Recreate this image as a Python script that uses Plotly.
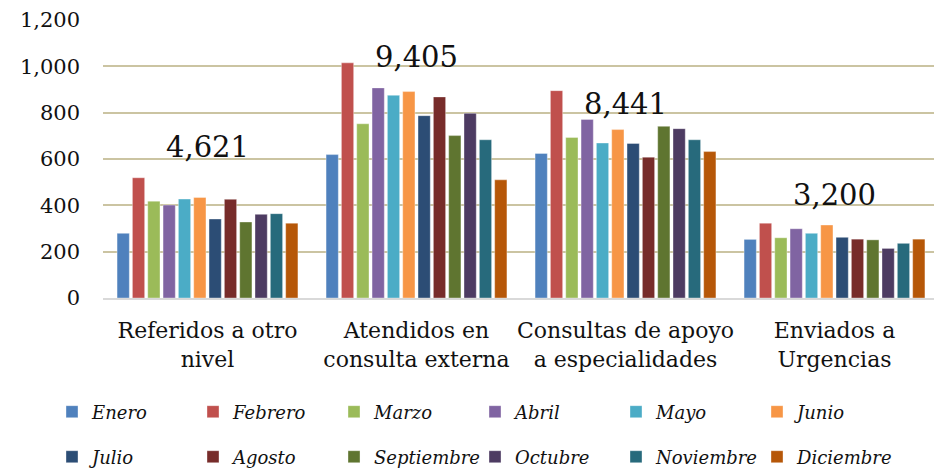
import plotly.graph_objects as go

categories = ["Referidos a otro<br>nivel", "Atendidos en<br>consulta externa",
              "Consultas de apoyo<br>a especialidades", "Enviados a<br>Urgencias"]
months = ["Enero", "Febrero", "Marzo", "Abril", "Mayo", "Junio",
          "Julio", "Agosto", "Septiembre", "Octubre", "Noviembre", "Diciembre"]

referidos = [279, 519, 418, 401, 427, 434, 341, 426, 328, 361, 364, 323]
atendidos = [619, 1015, 752, 907, 875, 891, 787, 868, 701, 797, 683, 510]
consultas = [624, 895, 693, 771, 669, 727, 667, 608, 741, 731, 683, 632]
enviados = [253, 323, 260, 299, 279, 315, 262, 254, 251, 214, 236, 254]

colors = ["#4F81BD", "#C0504D", "#9BBB59", "#8064A2", "#4BACC6", "#F79646",
          "#2C4D75", "#772C2A", "#5F7530", "#4D3B62", "#276A7C", "#B65708"]

label_y = [652, 1040, 837, 445]

groups = [referidos, atendidos, consultas, enviados]
FONT = "DejaVu Serif"

fig = go.Figure()
for i, m in enumerate(months):
    fig.add_trace(go.Bar(
        x=categories,
        y=[g[i] for g in groups],
        name=m,
        marker=dict(color=colors[i], line=dict(color="rgba(255,255,255,0.6)", width=0.6)),
        legend="legend" if i < 6 else "legend2",
    ))

for cat, g, ly in zip(categories, groups, label_y):
    fig.add_annotation(x=cat, y=ly, text=f"{sum(g):,}", showarrow=False,
                       font=dict(family=FONT, size=29, color="#111"),
                       yanchor="middle", xanchor="center")

legend_common = dict(orientation="h", xanchor="left", yanchor="middle",
                     entrywidth=96, entrywidthmode="pixels",
                     font=dict(family=FONT, size=18, color="#111", style="italic"),
                     bgcolor="rgba(0,0,0,0)", itemclick=False)

# page body adds an 8px offset; figure sized to fill the 942x471 window
fig.update_layout(
    width=934, height=463,
    margin=dict(l=95, r=3, t=12, b=173, autoexpand=False),
    paper_bgcolor="white", plot_bgcolor="white",
    barmode="group", bargap=0.12, bargroupgap=0.2,
    font=dict(family=FONT, color="#111"),
    legend=dict(x=-0.061, y=-0.41, **legend_common),
    legend2=dict(x=-0.061, y=-0.572, **legend_common),
    xaxis=dict(showgrid=False, showline=True, linecolor="#d9d9d9", linewidth=2,
               ticks="", tickfont=dict(family=FONT, size=22, color="#111"),
               ticklabelstandoff=12, automargin=False),
    yaxis=dict(range=[0, 1200], dtick=200, tickformat=",d",
               showgrid=True, gridcolor="#cbc4a2", gridwidth=2,
               zeroline=False, showline=False, ticks="",
               tickfont=dict(family=FONT, size=21, color="#111"),
               ticklabelstandoff=22, automargin=False),
)

fig.write_html("out.html")
